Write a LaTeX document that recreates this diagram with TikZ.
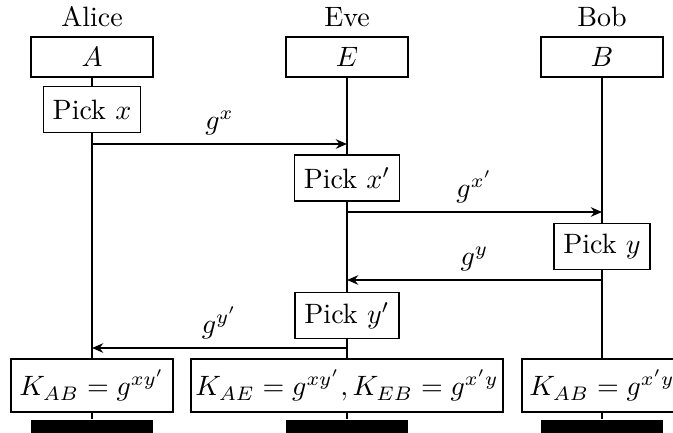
\documentclass[tikz,border=0pt]{standalone}
\usetikzlibrary{arrows.meta}
\begin{document}
\begin{tikzpicture}[x=0.35714pt,y=-0.35714pt,
  hdr/.style={draw,line width=0.55pt,fill=white,minimum width=43.6pt,minimum height=14.3pt,inner sep=0pt},
  pickbox/.style={draw,line width=0.55pt,fill=white,minimum height=16.4pt,inner ysep=0pt},
  keybox/.style={draw,line width=0.55pt,fill=white,minimum height=18.9pt,inner ysep=0pt,inner xsep=1.5pt},
  endbar/.style={fill=black,minimum width=43.6pt,minimum height=8pt,inner sep=0pt,anchor=north},
  life/.style={line width=0.85pt},
  msg/.style={-{Stealth[length=4pt,width=3.4pt]},line width=0.55pt},
  lbl/.style={above,inner sep=3pt}]
\useasboundingbox (0,0) rectangle (673,432);
\clip (0,0) rectangle (673,432);
% header boxes
\node[hdr] (A) at (92,57) {$A$};
\node[hdr] (E) at (347,57) {$E$};
\node[hdr] (B) at (602,57) {$B$};
\node[above] (alice) at (A.north) {Alice};
\node[above] (eve) at (E.north) {Eve};
\node[above] (bob) at (B.north) {Bob};
% end bars
\node[endbar] (barA) at (92,419) {};
\node[endbar] (barE) at (347,419) {};
\node[endbar] (barB) at (602,419) {};
% lifelines
\draw[life] (A.south) -- (barA.north);
\draw[life] (E.south) -- (barE.north);
\draw[life] (B.south) -- (barB.north);
% pick boxes
\node[pickbox] (px) at (92,109.5) {Pick $x$};
\node[pickbox] (pxp) at (347,178) {Pick $x'$};
\node[pickbox] (py) at (602,246.5) {Pick $y$};
\node[pickbox] (pyp) at (347,315.5) {Pick $y'$};
% key boxes
\node[keybox,minimum width=57.9pt] (kA) at (92,385.5) {$K_{AB}=g^{xy'}$};
\node[keybox,minimum width=111.2pt] (kE) at (347,385.5) {$K_{AE}=g^{xy'},K_{EB}=g^{x'y}$};
\node[keybox,minimum width=57.3pt] (kB) at (602,385.5) {$K_{AB}=g^{x'y}$};
% message coordinates
\coordinate (a1) at (92,144);  \coordinate (e1) at (347,144);
\coordinate (e2) at (347,212); \coordinate (b2) at (602,212);
\coordinate (b3) at (602,280); \coordinate (e3) at (347,280);
\coordinate (e4) at (347,348); \coordinate (a4) at (92,348);
\draw[msg] (a1) -- node[lbl] {$g^{x}$} (e1);
\draw[msg] (e2) -- node[lbl] {$g^{x'}$} (b2);
\draw[msg] (b3) -- node[lbl] {$g^{y}$} (e3);
\draw[msg] (e4) -- node[lbl] {$g^{y'}$} (a4);
\end{tikzpicture}
\end{document}
